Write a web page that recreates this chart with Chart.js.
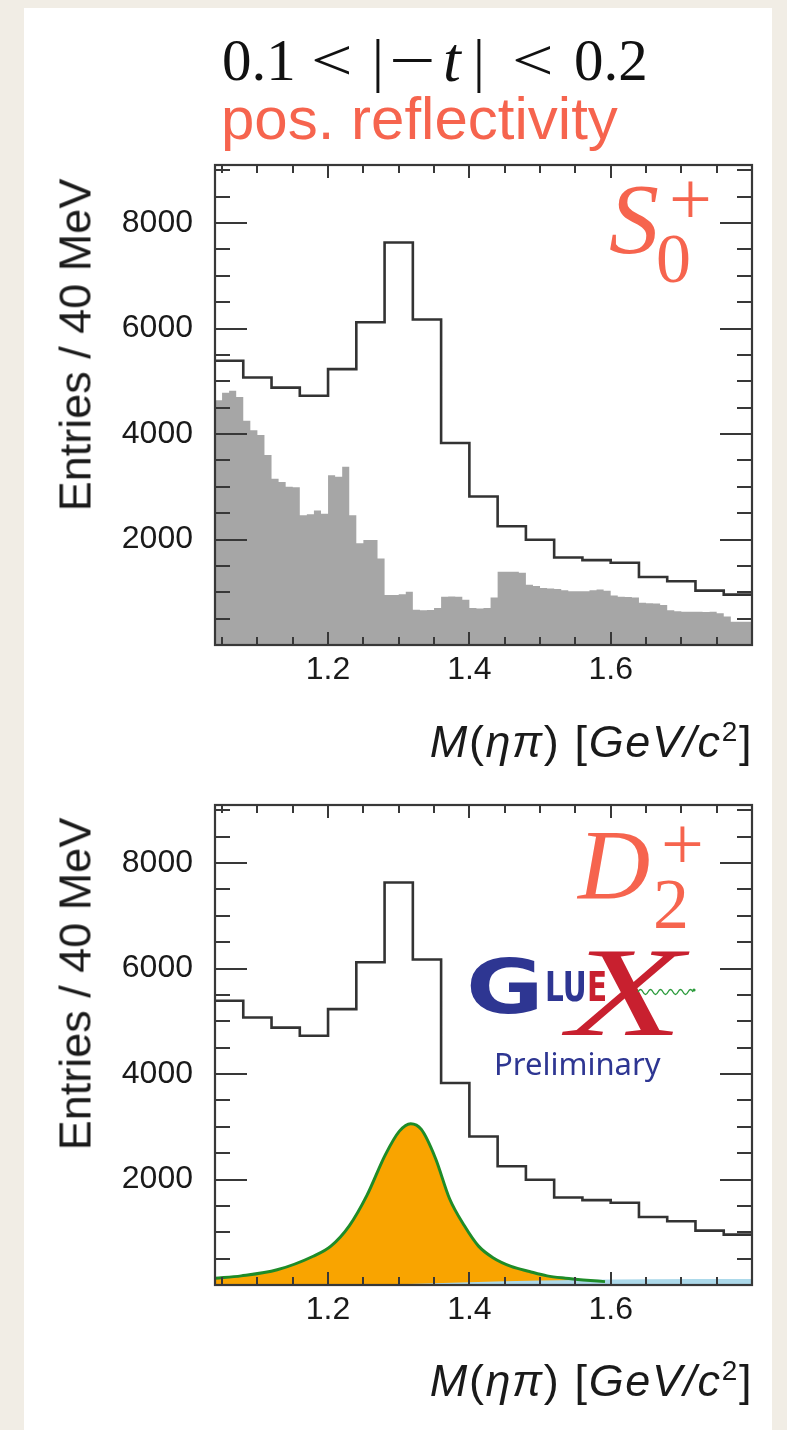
<!DOCTYPE html>
<html><head><meta charset="utf-8">
<script src="https://cdn.jsdelivr.net/npm/chart.js@4.4.1/dist/chart.umd.min.js"></script>
<style>
html,body{margin:0;padding:0;}
body{width:787px;height:1430px;background:#f1ede5;position:relative;overflow:hidden;font-family:"Liberation Sans",Arial,sans-serif;}
#panel{position:absolute;left:24px;top:8px;width:748px;height:1422px;background:#fff;}
.abs{position:absolute;white-space:nowrap;line-height:1;}
canvas{position:absolute;left:0;}
.red{color:#f6644e;}
.ytitle{font-size:45px;color:#1a1a1a;transform:translate(-50%,-50%) rotate(-90deg);}
.xtitle{font-size:45px;color:#1a1a1a;font-style:italic;letter-spacing:1.6px;}
.up{font-style:normal;}
.serif{font-family:"Liberation Serif","Times New Roman",serif;}
.tt{position:absolute;top:31px;font-size:59px;color:#111;line-height:1;white-space:nowrap;font-family:"Liberation Serif","Times New Roman",serif;transform-origin:left top;}
</style></head><body>
<div id="panel"></div>

<!-- title: 0.1 < |−t| < 0.2 -->
<div class="tt" style="left:222px;">0.1</div>
<div class="tt" style="left:311px;transform:scaleX(1.25);">&lt;</div>
<div class="tt" style="left:372px;">|</div>
<div class="tt" style="left:389px;transform:scaleX(1.4);">&#8722;</div>
<div class="tt" style="left:443px;font-size:64px;top:28px;"><i>t</i></div>
<div class="tt" style="left:473px;">|</div>
<div class="tt" style="left:512px;transform:scaleX(1.25);">&lt;</div>
<div class="tt" style="left:574px;">0.2</div>

<div class="abs red" style="left:221px;top:89px;font-size:60px;">pos. reflectivity</div>

<canvas id="c1" width="787" height="632" style="top:148px"></canvas>
<canvas id="c2" width="787" height="650" style="top:780px"></canvas>

<div class="abs ytitle" style="left:75px;top:345px;">Entries / 40 MeV</div>
<div class="abs ytitle" style="left:75px;top:984px;">Entries / 40 MeV</div>
<div class="abs xtitle" style="right:34px;top:718px;">M<span class="up">(</span>ηπ<span class="up">)</span> <span class="up">[</span>GeV/c<sup class="up" style="font-size:28px;vertical-align:16px">2</sup><span class="up">]</span></div>
<div class="abs xtitle" style="right:34px;top:1357px;">M<span class="up">(</span>ηπ<span class="up">)</span> <span class="up">[</span>GeV/c<sup class="up" style="font-size:28px;vertical-align:16px">2</sup><span class="up">]</span></div>

<!-- wave labels -->
<div class="abs serif red" style="left:609px;top:169px;font-size:100px;font-style:italic;">S</div>
<div class="abs serif red" style="left:656px;top:224px;font-size:70px;">0</div>
<div class="abs serif red" style="left:669px;top:160px;font-size:76px;">+</div>

<div class="abs serif red" style="left:578px;top:815px;font-size:100px;font-style:italic;">D</div>
<div class="abs serif red" style="left:653px;top:868px;font-size:72px;">2</div>
<div class="abs serif red" style="left:661px;top:805px;font-size:76px;">+</div>

<!-- GlueX logo -->
<div class="abs" style="left:466px;top:950px;font-family:'DejaVu Sans';font-weight:bold;font-size:74px;color:#2e3692;transform:scaleX(1.28);transform-origin:left top;">G</div>
<div class="abs" style="left:545px;top:967px;font-family:'DejaVu Sans';font-weight:bold;font-size:41px;color:#2e3692;transform:scaleX(0.72);transform-origin:left top;">LU</div>
<div class="abs serif" style="left:568px;top:930px;font-size:126px;font-style:italic;color:#c8202f;transform:scaleX(1.5);transform-origin:left top;">X</div>
<div class="abs" style="left:587px;top:967px;font-family:'DejaVu Sans';font-weight:bold;font-size:41px;color:#c8202f;transform:scaleX(0.72);transform-origin:left top;">E</div>
<svg class="abs" style="left:636px;top:984px;" width="62" height="16" viewBox="0 0 62 16">
<path d="M2 8 q2.5 -5 5 0 t5 0 t5 0 t5 0 t5 0 t5 0 t5 0 t5 0 t5 0 t5 0 t5 0" fill="none" stroke="#2a9a3a" stroke-width="1.3"/>
<circle cx="58" cy="6" r="1.6" fill="#2a9a3a"/></svg>
<div class="abs" style="left:494px;top:1048px;font-family:'Noto Sans';font-size:31px;color:#2e3692;">Preliminary</div>

<script>
// ---------------- data ----------------
// 40 MeV bins (lower edges), last upper edge = xMax
const massBins40 = [1.04,1.08,1.12,1.16,1.20,1.24,1.28,1.32,1.36,1.40,1.44,1.48,1.52,1.56,1.60,1.64,1.68,1.72,1.76];
const totalCounts = [5390,5070,4880,4725,5230,6120,7630,6170,3830,2815,2250,1995,1660,1610,1560,1290,1210,1030,955];

// S0+ wave, 10 MeV bins (lower edges)
const massBins10 = [1.04,1.05,1.06,1.07,1.08,1.09,1.10,1.11,1.12,1.13,1.14,1.15,1.16,1.17,1.18,1.19,
  1.20,1.21,1.22,1.23,1.24,1.25,1.26,1.27,1.28,1.29,1.30,1.31,1.32,1.33,1.34,1.35,1.36,1.37,1.38,1.39,
  1.40,1.41,1.42,1.43,1.44,1.45,1.46,1.47,1.48,1.49,1.50,1.51,1.52,1.53,1.54,1.55,1.56,1.57,1.58,1.59,
  1.60,1.61,1.62,1.63,1.64,1.65,1.66,1.67,1.68,1.69,1.70,1.71,1.72,1.73,1.74,1.75,1.76,1.77,1.78,1.79];
const sWaveCounts = [4640,4780,4820,4700,4250,4070,3980,3600,3150,3090,3000,2990,2460,2480,2550,2490,
  3220,3190,3380,2460,1930,1990,1990,1640,950,950,960,1010,670,660,665,700,915,920,915,860,
  700,690,700,900,1390,1390,1390,1370,1140,1120,1080,1070,1060,1040,1020,1020,1020,1040,1050,1030,
  940,915,910,900,800,790,785,760,660,640,630,630,630,625,630,600,540,440,440,440];

// D2+ wave curve
const dWaveMass = [1.04,1.077,1.128,1.179,1.204,1.230,1.255,1.281,1.301,1.317,1.332,1.352,1.372,1.393,1.413,1.434,1.459,1.485,1.510,1.536,1.561,1.592];
const dWaveCounts = [128,173,288,545,737,1122,1699,2468,2917,3058,2949,2404,1635,1122,737,513,353,256,173,128,96,64];

// small light-blue component
const bgMass = [1.04,1.25,1.35,1.45,1.55,1.65,1.80];
const bgCounts = [0,5,35,70,95,110,115];

// axes
const xMin = 1.04, xMax = 1.80, yMax = 9100;
const xTickValues = [1.2,1.4,1.6];
const xTickLabels = ['1.2','1.4','1.6'];
const yTickValues = [2000,4000,6000,8000];
const yTickLabels = ['2000','4000','6000','8000'];
const xMinorStep = 0.05, yMinorStep = 500;

// ---------------- helpers ----------------
function histPoints(edges, vals){
  const pts = edges.map((e,i)=>({x:e, y:vals[i]}));
  pts.push({x:xMax, y:vals[vals.length-1]});
  return pts;
}
function xyPoints(xs, ys){ return xs.map((x,i)=>({x, y:ys[i]})); }

const FRAME = '#383838';
const framePlugin = {
  id:'frameTicks',
  afterDatasetsDraw(chart){
    const {ctx, chartArea:a, scales:{x,y}} = chart;
    ctx.save();
    ctx.strokeStyle = FRAME;
    ctx.lineWidth = 2;
    ctx.beginPath();
    for(let k=1; k*yMinorStep < yMax; k++){
      const v = k*yMinorStep;
      const py = Math.round(y.getPixelForValue(v));
      const L = yTickValues.includes(v) ? 32 : 15;
      ctx.moveTo(a.left, py); ctx.lineTo(a.left+L, py);
      ctx.moveTo(a.right, py); ctx.lineTo(a.right-L, py);
    }
    const k0 = Math.ceil(xMin/xMinorStep+1e-6), k1 = Math.floor(xMax/xMinorStep-1e-6);
    for(let k=k0; k<=k1; k++){
      const v = +(k*xMinorStep).toFixed(3);
      const px = Math.round(x.getPixelForValue(v));
      const L = xTickValues.some(t=>Math.abs(t-v)<1e-6) ? 13 : 8;
      ctx.moveTo(px, a.bottom); ctx.lineTo(px, a.bottom-L);
      ctx.moveTo(px, a.top); ctx.lineTo(px, a.top+L);
    }
    ctx.stroke();
    ctx.lineWidth = 2.2;
    ctx.strokeRect(a.left, a.top, a.right-a.left, a.bottom-a.top);
    ctx.restore();
  }
};

function makeOptions(topPad, xAxisH){
  const font = {family:'"Liberation Sans", Arial, sans-serif', size:32};
  return {
    responsive:false, animation:false, devicePixelRatio:1,
    layout:{padding:{top:topPad, right:35, left:0, bottom:0}},
    plugins:{legend:{display:false}, tooltip:{enabled:false}},
    elements:{point:{radius:0}},
    scales:{
      x:{type:'linear', min:xMin, max:xMax,
         grid:{display:false, drawTicks:false}, border:{display:false},
         afterBuildTicks:s=>{ s.ticks = xTickValues.map(v=>({value:v})); },
         ticks:{padding:6, color:'#1a1a1a', font, maxRotation:0, autoSkip:false,
                callback:(v,i)=>xTickLabels[i]},
         afterFit:s=>{ s.height = xAxisH; s.paddingLeft = 0; s.paddingRight = 0; }},
      y:{type:'linear', min:0, max:yMax,
         grid:{display:false, drawTicks:false}, border:{display:false},
         afterBuildTicks:s=>{ s.ticks = yTickValues.map(v=>({value:v})); },
         ticks:{padding:22, color:'#1a1a1a', font, autoSkip:false,
                callback:(v,i)=>yTickLabels[i]},
         afterFit:s=>{ s.width = 215; s.paddingTop = 0; s.paddingBottom = 0; }}
    }
  };
}

const totalLine = () => ({
  data: histPoints(massBins40, totalCounts), stepped:true,
  borderColor:'#333333', borderWidth:2.6, fill:false, pointRadius:0
});

new Chart(document.getElementById('c1'), {
  type:'line',
  data:{datasets:[
    totalLine(),
    {data: histPoints(massBins10, sWaveCounts), stepped:true,
     borderWidth:0, borderColor:'rgba(0,0,0,0)', backgroundColor:'#a6a6a6', fill:'origin', pointRadius:0}
  ]},
  options: makeOptions(17, 135),
  plugins:[framePlugin]
});

new Chart(document.getElementById('c2'), {
  type:'line',
  data:{datasets:[
    totalLine(),
    {data: xyPoints(dWaveMass, dWaveCounts), cubicInterpolationMode:'monotone',
     borderColor:'#1e8c28', borderWidth:3, fill:false, pointRadius:0},
    {data: xyPoints(bgMass, bgCounts), cubicInterpolationMode:'monotone',
     borderWidth:0, borderColor:'rgba(0,0,0,0)', backgroundColor:'#acd9ea', fill:'origin', pointRadius:0},
    {data: xyPoints(dWaveMass, dWaveCounts), cubicInterpolationMode:'monotone',
     borderWidth:0, borderColor:'rgba(0,0,0,0)', backgroundColor:'#f9a400', fill:'origin', pointRadius:0}
  ]},
  options: makeOptions(25, 145),
  plugins:[framePlugin]
});
</script>
</body></html>
